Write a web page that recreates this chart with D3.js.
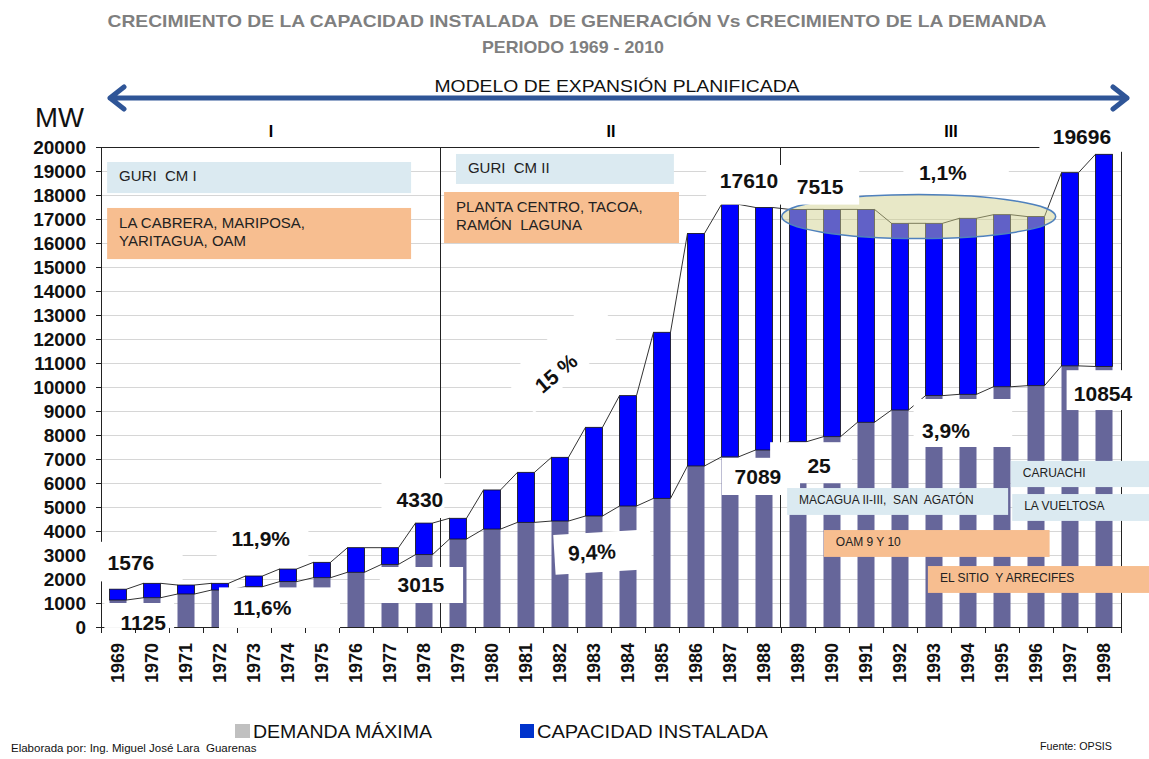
<!DOCTYPE html>
<html>
<head>
<meta charset="utf-8">
<script src="https://cdn.jsdelivr.net/npm/d3@7"></script>
<style>
  body { margin: 0; background: #fff; }
  text { font-family: "Liberation Sans", Arial, sans-serif; white-space: pre; }
</style>
</head>
<body>
<script>
// valores (MW)
var years = ["1969","1970","1971","1972","1973","1974","1975","1976","1977","1978",
             "1979","1980","1981","1982","1983","1984","1985","1986","1987","1988",
             "1989","1990","1991","1992","1993","1994","1995","1996","1997","1998"];
var capacidad = [1576, 1820, 1750, 1820, 2125, 2415, 2695, 3305, 3305, 4330,
                 4530, 5710, 6445, 7070, 8320, 9640, 12280, 16400, 17610, 17480,
                 17400, 17400, 17400, 16820, 16820, 17030, 17180, 17100, 18930, 19696];
var demanda = [1125, 1220, 1375, 1540, 1680, 1890, 2055, 2280, 2610, 3015,
               3665, 4080, 4360, 4415, 4625, 5040, 5360, 6710, 7089, 7375,
               7720, 7930, 8530, 9040, 9640, 9695, 10010, 10055, 10880, 10854];
var yTicks = d3.range(0, 20001, 1000);
var periodos = ["I", "II", "III"];
var periodoCentro = [5, 15, 25];   // en unidades de categoria
var divisiones = [10, 20];

// cajas de centrales: t0,t1 en categorias, v0,v1 en MW
var centrales = [
  {lines: ["GURI  CM I"], t0: 0.18, t1: 9.12, v0: 18080, v1: 19375, col: "#dbeaf1", size: 15},
  {lines: ["LA CABRERA, MARIPOSA,", "YARITAGUA, OAM"], t0: 0.18, t1: 9.12, v0: 15330, v1: 17460, col: "#f7be90", size: 15},
  {lines: ["GURI  CM II"], t0: 10.44, t1: 16.85, v0: 18460, v1: 19710, col: "#dbeaf1", size: 15},
  {lines: ["PLANTA CENTRO, TACOA,", "RAMÓN  LAGUNA"], t0: 10.09, t1: 17.0, v0: 16000, v1: 18125, col: "#f7be90", size: 15},
  {lines: ["MACAGUA II-III,  SAN  AGATÓN"], t0: 20.18, t1: 26.68, v0: 4670, v1: 5790, col: "#dbeaf1", size: 12},
  {lines: ["CARUACHI"], t0: 26.76, t1: 30.9, v0: 5830, v1: 6920, col: "#dbeaf1", size: 12},
  {lines: ["LA VUELTOSA"], t0: 26.8, t1: 30.9, v0: 4420, v1: 5540, col: "#dbeaf1", size: 12},
  {lines: ["OAM 9 Y 10"], t0: 21.26, t1: 27.9, v0: 2920, v1: 4040, col: "#f7be90", size: 12},
  {lines: ["EL SITIO  Y ARRECIFES"], t0: 24.32, t1: 30.9, v0: 1420, v1: 2540, col: "#f7be90", size: 12}
];

// fondos blancos de las etiquetas
var tapas = [
  {t0: -0.3, t1: 2.4, v0: 1900, v1: 3550},
  {t0: 0.1, t1: 2.15, v0: -40, v1: 1000},
  {t0: 3.47, t1: 7.03, v0: -40, v1: 1650},
  {t0: 3.4, t1: 6.1, v0: 2800, v1: 4450},
  {t0: 8.25, t1: 10.1, v0: 4540, v1: 6200},
  {t0: 8.2, t1: 10.65, v0: 1000, v1: 2500},
  {t0: 18.26, t1: 20.56, v0: 5500, v1: 7050},
  {t0: 19.68, t1: 22.09, v0: 5990, v1: 7700},
  {t0: 23.9, t1: 26.8, v0: 7500, v1: 9500},
  {t0: 28.4, t1: 30.56, v0: 9040, v1: 10700},
  {t0: 27.6, t1: 30.2, v0: 19800, v1: 20900},
  {t0: 23.6, t1: 26.7, v0: 18200, v1: 19540},
  {t0: 17.8, t1: 22.3, v0: 17600, v1: 19250}
];
var tapasGiradas = [
  {t: 13.6, v: 11300, w: 120, h: 46, rot: -42},
  {t: 14.76, v: 3125, w: 97, h: 40, rot: -3.4}
];

var etiquetas = [
  {text: "1576", t: 0.88, v: 2670}, {text: "1125", t: 1.24, v: 170},
  {text: "11,9%", t: 4.7, v: 3710}, {text: "11,6%", t: 4.74, v: 830},
  {text: "4330", t: 9.38, v: 5330}, {text: "3015", t: 9.41, v: 1790},
  {text: "15 %", t: 13.38, v: 10580, rot: -40}, {text: "9,4%", t: 14.44, v: 3125, rot: -3},
  {text: "17610", t: 19.06, v: 18625}, {text: "7089", t: 19.32, v: 6290},
  {text: "7515", t: 21.15, v: 18375}, {text: "25", t: 21.12, v: 6750},
  {text: "1,1%", t: 24.76, v: 18920}, {text: "3,9%", t: 24.85, v: 8210},
  {text: "19696", t: 28.85, v: 20460}, {text: "10854", t: 29.47, v: 9750}
];

var W = 1149, H = 759;
var svg = d3.select("body").append("svg").attr("width", W).attr("height", H);

var x = d3.scaleBand().domain(years).range([101, 1121]).paddingInner(0.5).paddingOuter(0.25);
var pos = d3.scaleLinear().domain([0, years.length]).range([101, 1121]);
var y = d3.scaleLinear().domain([0, 20000]).range([627, 147]);
var bw = x.bandwidth();

// titulos
svg.append("text").attr("x", 577).attr("y", 27).attr("text-anchor", "middle")
  .attr("textLength", 939).attr("lengthAdjust", "spacingAndGlyphs")
  .style("font-size", "17px").style("font-weight", "bold").style("fill", "#7f7f7f")
  .text("CRECIMIENTO DE LA CAPACIDAD INSTALADA  DE GENERACIÓN Vs CRECIMIENTO DE LA DEMANDA");
svg.append("text").attr("x", 573).attr("y", 53).attr("text-anchor", "middle")
  .attr("textLength", 182).attr("lengthAdjust", "spacingAndGlyphs")
  .style("font-size", "17px").style("font-weight", "bold").style("fill", "#7f7f7f")
  .text("PERIODO 1969 - 2010");
svg.append("text").attr("x", 617).attr("y", 92).attr("text-anchor", "middle")
  .attr("textLength", 365).attr("lengthAdjust", "spacingAndGlyphs")
  .style("font-size", "17px").style("fill", "#111")
  .text("MODELO DE EXPANSIÓN PLANIFICADA");

// flecha doble
svg.append("path")
  .attr("d", "M110,98 L1127,98 M124,87 L110,98 L124,109 M1113,87 L1127,98 L1113,109")
  .style("fill", "none").style("stroke", "#2f5597").style("stroke-width", 5)
  .style("stroke-linejoin", "round").style("stroke-linecap", "round");

svg.append("text").attr("x", 35).attr("y", 127).attr("textLength", 49).attr("lengthAdjust", "spacingAndGlyphs")
  .style("font-size", "28px").style("fill", "#111").text("MW");

svg.selectAll(".periodo").data(periodos).enter().append("text")
  .attr("x", function(d, i) { return pos(periodoCentro[i]); })
  .attr("y", 137).attr("text-anchor", "middle")
  .style("font-size", "16px").style("font-weight", "bold").text(function(d) { return d; });

// rejilla
svg.append("g").selectAll("line").data(yTicks.slice(1, -1)).enter().append("line")
  .attr("x1", 101).attr("x2", 1121)
  .attr("y1", function(d) { return y(d) + 0.5; }).attr("y2", function(d) { return y(d) + 0.5; })
  .style("stroke", "#d6d6d6").style("stroke-width", 1);

// barras: demanda abajo, diferencia en azul arriba
var barras = svg.append("g");
barras.selectAll(".dem").data(years).enter().append("rect")
  .attr("x", function(d) { return x(d); }).attr("width", bw)
  .attr("y", function(d, i) { return y(demanda[i]); })
  .attr("height", function(d, i) { return y(0) - y(demanda[i]); })
  .style("fill", "#66669a");
barras.selectAll(".cap").data(years).enter().append("rect")
  .attr("x", function(d) { return x(d); }).attr("width", bw)
  .attr("y", function(d, i) { return y(capacidad[i]); })
  .attr("height", function(d, i) { return y(demanda[i]) - y(capacidad[i]); })
  .style("fill", "#0000ff").style("stroke", "#111").style("stroke-width", 0.8);

// lineas de serie entre barras
function serieLines(vals) {
  svg.append("g").selectAll("line").data(vals.slice(0, -1)).enter().append("line")
    .attr("x1", function(d, i) { return x(years[i]) + bw; })
    .attr("y1", function(d) { return y(d); })
    .attr("x2", function(d, i) { return x(years[i + 1]); })
    .attr("y2", function(d, i) { return y(vals[i + 1]); })
    .style("stroke", "#333").style("stroke-width", 1);
}
serieLines(capacidad);
serieLines(demanda);

// elipse periodo III
svg.append("ellipse").attr("cx", pos(24.05)).attr("cy", y(17100)).attr("rx", 137).attr("ry", 22)
  .style("fill", "rgb(206,206,137)").style("fill-opacity", 0.47)
  .style("stroke", "#4f81bd").style("stroke-width", 1.5);

// divisiones de periodo
svg.selectAll(".div").data(divisiones).enter().append("line")
  .attr("x1", function(d) { return pos(d) - 0.5; }).attr("x2", function(d) { return pos(d) - 0.5; })
  .attr("y1", y(20000)).attr("y2", y(0))
  .style("stroke", "#222").style("stroke-width", 1);

// borde superior y derecho
svg.append("path").attr("d", "M101," + (y(20000) + 0.5) + " H1121.5 V" + y(0))
  .style("fill", "none").style("stroke", "#222").style("stroke-width", 1);

// ejes
var yAxis = svg.append("g").attr("transform", "translate(101,0)")
  .call(d3.axisLeft(y).tickValues(yTicks).tickFormat(d3.format("d")).tickSize(5).tickSizeOuter(0).tickPadding(10));
yAxis.selectAll("text").style("font-size", "19px").style("font-weight", "bold").style("fill", "#111")
  .style("font-family", "'Liberation Sans', Arial, sans-serif");
yAxis.selectAll("line, path").style("stroke", "#222");

var xTicks = svg.append("g").attr("transform", "translate(0," + y(0) + ")")
  .call(d3.axisBottom(pos).tickValues(d3.range(0, years.length + 1)).tickFormat("").tickSize(6).tickSizeOuter(0));
xTicks.selectAll("line, path").style("stroke", "#222");

var xAxis = svg.append("g").attr("transform", "translate(0," + y(0) + ")")
  .call(d3.axisBottom(x).tickSize(0));
xAxis.select("path").remove();
xAxis.selectAll("text")
  .attr("transform", "rotate(-90)").attr("x", -16).attr("y", 0).attr("dy", "0.36em")
  .style("text-anchor", "end").style("font-size", "18px").style("font-weight", "bold").style("fill", "#111")
  .style("font-family", "'Liberation Sans', Arial, sans-serif");

// tapas blancas
svg.append("g").selectAll("rect").data(tapas).enter().append("rect")
  .attr("x", function(d) { return pos(d.t0); }).attr("width", function(d) { return pos(d.t1) - pos(d.t0); })
  .attr("y", function(d) { return y(d.v1); }).attr("height", function(d) { return y(d.v0) - y(d.v1); })
  .style("fill", "#fff");
svg.append("g").selectAll("rect").data(tapasGiradas).enter().append("rect")
  .attr("x", function(d) { return -d.w / 2; }).attr("y", function(d) { return -d.h / 2; })
  .attr("width", function(d) { return d.w; }).attr("height", function(d) { return d.h; })
  .attr("transform", function(d) { return "translate(" + pos(d.t) + "," + y(d.v) + ") rotate(" + d.rot + ")"; })
  .style("fill", "#fff");

// cajas de centrales
var cajas = svg.append("g").selectAll("g").data(centrales).enter().append("g");
cajas.append("rect")
  .attr("x", function(d) { return pos(d.t0); }).attr("width", function(d) { return pos(d.t1) - pos(d.t0); })
  .attr("y", function(d) { return y(d.v1); }).attr("height", function(d) { return y(d.v0) - y(d.v1); })
  .style("fill", function(d) { return d.col; });
cajas.each(function(d) {
  var g = d3.select(this);
  var top = y(d.v1), h = y(d.v0) - y(d.v1);
  var lh = d.size * 1.2;
  var start = top + h / 2 - (d.lines.length * lh) / 2 + d.size * 0.85;
  d.lines.forEach(function(l, k) {
    g.append("text").attr("x", pos(d.t0) + 12).attr("y", start + k * lh)
      .style("font-size", d.size + "px").style("fill", "#222").text(l);
  });
});

// etiquetas de valores
svg.append("g").selectAll("text").data(etiquetas).enter().append("text")
  .attr("transform", function(d) { return "translate(" + pos(d.t) + "," + y(d.v) + ") rotate(" + (d.rot || 0) + ")"; })
  .attr("text-anchor", "middle").attr("dy", "0.36em")
  .style("font-size", "21px").style("font-weight", "bold").style("fill", "#111")
  .text(function(d) { return d.text; });

// leyenda
svg.append("rect").attr("x", 235).attr("y", 724).attr("width", 15).attr("height", 14).style("fill", "#c0c0c0");
svg.append("text").attr("x", 253).attr("y", 738).attr("textLength", 179).attr("lengthAdjust", "spacingAndGlyphs")
  .style("font-size", "18px").style("fill", "#111").text("DEMANDA MÁXIMA");
svg.append("rect").attr("x", 520).attr("y", 724).attr("width", 14).attr("height", 14).style("fill", "#0033cc");
svg.append("text").attr("x", 537).attr("y", 738).attr("textLength", 231).attr("lengthAdjust", "spacingAndGlyphs")
  .style("font-size", "18px").style("fill", "#111").text("CAPACIDAD INSTALADA");

svg.append("text").attr("x", 11).attr("y", 752).style("font-size", "11.5px").style("fill", "#111")
  .text("Elaborada por: Ing. Miguel José Lara  Guarenas");
svg.append("text").attr("x", 1040).attr("y", 750).attr("textLength", 72).attr("lengthAdjust", "spacingAndGlyphs")
  .style("font-size", "11.5px").style("fill", "#111").text("Fuente: OPSIS");
</script>
</body>
</html>
